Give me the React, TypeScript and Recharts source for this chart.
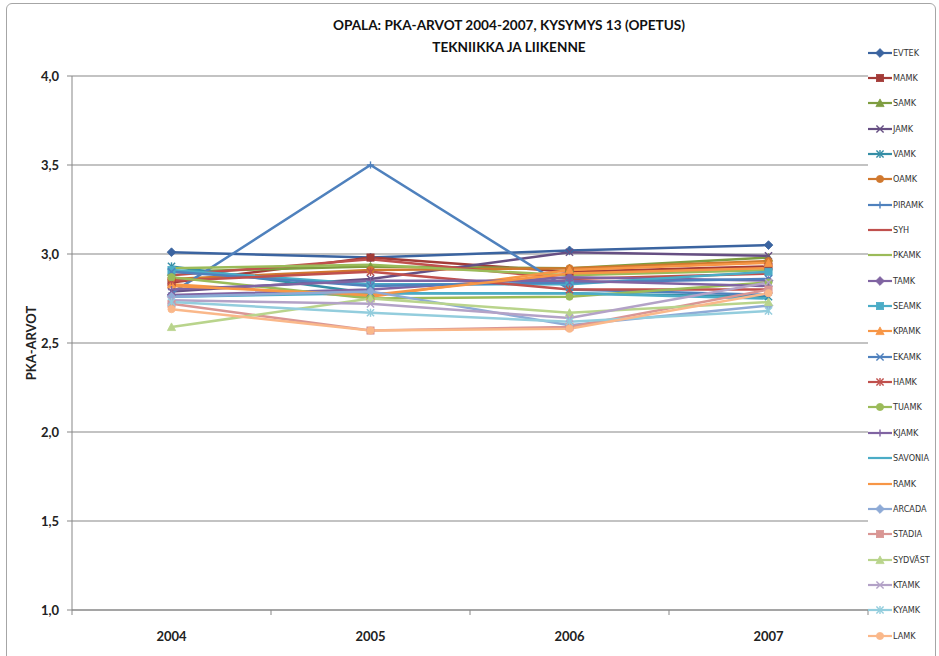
import React from 'react';
import { LineChart, Line, XAxis, YAxis, CartesianGrid } from 'recharts';

// Survey years on the category axis
const years = ['2004', '2005', '2006', '2007'];

// PKA values per school, one value per year
const EVTEK = [3.01, 2.98, 3.02, 3.05];
const MAMK = [2.84, 2.98, 2.9, 2.93];
const SAMK = [2.9, 2.93, 2.92, 2.98];
const JAMK = [2.79, 2.86, 3.01, 2.99];
const VAMK = [2.93, 2.78, 2.78, 2.76];
const OAMK = [2.86, 2.91, 2.92, 2.96];
const PIRAMK = [2.78, 3.5, 2.8, 2.77];
const SYH = [2.88, 2.97, 2.86, 2.89];
const PKAMK = [2.92, 2.94, 2.88, 2.91];
const TAMK = [2.77, 2.8, 2.87, 2.85];
const SEAMK = [2.91, 2.83, 2.83, 2.9];
const KPAMK = [2.83, 2.76, 2.91, 2.95];
const EKAMK = [2.9, 2.82, 2.84, 2.86];
const HAMK = [2.85, 2.9, 2.8, 2.8];
const TUAMK = [2.87, 2.75, 2.76, 2.84];
const KJAMK = [2.8, 2.85, 2.85, 2.82];
const SAVONIA = [2.76, 2.78, 2.78, 2.75];
const RAMK = [2.82, 2.77, 2.89, 2.92];
const ARCADA = [2.76, 2.79, 2.6, 2.71];
const STADIA = [2.72, 2.57, 2.59, 2.8];
const SYDVAST = [2.59, 2.75, 2.67, 2.73];
const KTAMK = [2.74, 2.72, 2.64, 2.84];
const KYAMK = [2.73, 2.67, 2.62, 2.68];
const LAMK = [2.69, 2.57, 2.58, 2.78];

const schoolNames = [
  'EVTEK', 'MAMK', 'SAMK', 'JAMK', 'VAMK', 'OAMK', 'PIRAMK', 'SYH',
  'PKAMK', 'TAMK', 'SEAMK', 'KPAMK', 'EKAMK', 'HAMK', 'TUAMK', 'KJAMK',
  'SAVONIA', 'RAMK', 'ARCADA', 'STADIA', 'SYDVÄST', 'KTAMK', 'KYAMK', 'LAMK',
];
const schoolValues = [
  EVTEK, MAMK, SAMK, JAMK, VAMK, OAMK, PIRAMK, SYH,
  PKAMK, TAMK, SEAMK, KPAMK, EKAMK, HAMK, TUAMK, KJAMK,
  SAVONIA, RAMK, ARCADA, STADIA, SYDVAST, KTAMK, KYAMK, LAMK,
];

const yTicks = [1, 1.5, 2, 2.5, 3, 3.5, 4];

// Series styling: colour and marker type, in series order
const seriesColors = [
  '#3b64a0', '#a33b37', '#7e9d40', '#664f83', '#358ea6', '#d0782e', '#4f81bd', '#c0504d',
  '#9bbb59', '#8064a2', '#4bacc6', '#f79646', '#4f81bd', '#c0504d', '#9bbb59', '#8064a2',
  '#4bacc6', '#f79646', '#8eaad6', '#d99694', '#b9d48c', '#b3a2c7', '#93cddd', '#fab88a',
];
const markerKinds = [
  'diamond', 'square', 'triangle', 'x', 'star', 'circle', 'plus', 'none',
  'none', 'diamond', 'square', 'triangle', 'x', 'star', 'circle', 'plus',
  'none', 'none', 'diamond', 'square', 'triangle', 'x', 'star', 'circle',
];

const chartData = years.map((year, i) => {
  const row: Record<string, string | number> = { year };
  schoolValues.forEach((vals, s) => {
    row['s' + s] = vals[i];
  });
  return row;
});

function markerShape(kind: string, cx: number, cy: number, color: string, key?: any) {
  const r = 3.6;
  switch (kind) {
    case 'diamond':
      return (
        <polygon key={key} points={`${cx},${cy - r - 0.8} ${cx + r + 0.8},${cy} ${cx},${cy + r + 0.8} ${cx - r - 0.8},${cy}`} fill={color} stroke={color} strokeWidth={0.8} />
      );
    case 'square':
      return <rect key={key} x={cx - r} y={cy - r} width={r * 2} height={r * 2} fill={color} stroke={color} strokeWidth={0.8} />;
    case 'triangle':
      return (
        <polygon key={key} points={`${cx},${cy - r - 0.5} ${cx + r + 0.5},${cy + r} ${cx - r - 0.5},${cy + r}`} fill={color} stroke={color} strokeWidth={0.8} />
      );
    case 'x':
      return (
        <g key={key} stroke={color} strokeWidth={1.4}>
          <line x1={cx - r} y1={cy - r} x2={cx + r} y2={cy + r} />
          <line x1={cx - r} y1={cy + r} x2={cx + r} y2={cy - r} />
        </g>
      );
    case 'star':
      return (
        <g key={key} stroke={color} strokeWidth={1.4}>
          <line x1={cx - r} y1={cy - r} x2={cx + r} y2={cy + r} />
          <line x1={cx - r} y1={cy + r} x2={cx + r} y2={cy - r} />
          <line x1={cx} y1={cy - r - 0.5} x2={cx} y2={cy + r + 0.5} />
        </g>
      );
    case 'circle':
      return <circle key={key} cx={cx} cy={cy} r={r} fill={color} stroke={color} strokeWidth={0.8} />;
    case 'plus':
      return (
        <g key={key} stroke={color} strokeWidth={1.4}>
          <line x1={cx - r} y1={cy} x2={cx + r} y2={cy} />
          <line x1={cx} y1={cy - r} x2={cx} y2={cy + r} />
        </g>
      );
    default:
      return <g key={key} />;
  }
}

const fmt = (v: number) => v.toFixed(1).replace('.', ',');

const YearTick = (props: any) => {
  const { x, y, payload, index, width, visibleTicksCount } = props;
  const half = width / visibleTicksCount / 2;
  const last = index === visibleTicksCount - 1;
  return (
    <g>
      <line x1={x - half} y1={y} x2={x - half} y2={y + 5} stroke="#878787" />
      {last && <line x1={x + half} y1={y} x2={x + half} y2={y + 5} stroke="#878787" />}
      <text x={x} y={y + 31} textAnchor="middle" fontFamily="Lato, 'Liberation Sans', sans-serif" fontWeight={700} fontSize={13} fill="#222">
        {payload.value}
      </text>
    </g>
  );
};

export default function App() {
  return (
    <div style={{ position: 'absolute', left: 0, top: 0, width: 939, height: 656, background: '#fff', overflow: 'hidden' }}>
      <div
        style={{
          position: 'absolute', left: 6, top: 3, width: 930, height: 660,
          border: '1px solid #a6a6a6', borderRadius: 6, boxSizing: 'border-box',
        }}
      />
      <div
        style={{
          position: 'absolute', left: 259, top: 14, width: 500, textAlign: 'center',
          fontFamily: "Lato, 'Liberation Sans', sans-serif", fontWeight: 700, fontSize: 13.6, lineHeight: '22px', color: '#111',
        }}
      >
        <div>OPALA: PKA-ARVOT 2004-2007, KYSYMYS 13 (OPETUS)</div>
        <div>TEKNIIKKA JA LIIKENNE</div>
      </div>
      <div
        style={{
          position: 'absolute', left: 31, top: 343, transform: 'translate(-50%, -50%) rotate(-90deg)',
          fontFamily: "Lato, 'Liberation Sans', sans-serif", fontWeight: 700, fontSize: 13, color: '#222', whiteSpace: 'nowrap',
        }}
      >
        PKA-ARVOT
      </div>
      <div style={{ position: 'absolute', left: 0, top: 0 }}>
        <LineChart width={939} height={656} data={chartData} margin={{ top: 76, right: 71, bottom: 16, left: 22 }}>
          <CartesianGrid vertical={false} stroke="#878787" strokeWidth={1} />
          <XAxis
            dataKey="year"
            scale="band"
            height={30}
            axisLine={{ stroke: '#878787' }}
            tickLine={false}
            tickSize={0}
            tickMargin={0}
            tick={<YearTick />}
            interval={0}
          />
          <YAxis
            width={50}
            domain={[1, 4]}
            ticks={yTicks}
            tickFormatter={fmt}
            axisLine={{ stroke: '#878787' }}
            tickLine={{ stroke: '#878787' }}
            tickSize={5}
            tickMargin={8}
            tick={{ fontFamily: "Lato, 'Liberation Sans', sans-serif", fontWeight: 700, fontSize: 13, fill: '#222' }}
          />
          {schoolNames.map((name, s) => (
            <Line
              key={name}
              name={name}
              dataKey={'s' + s}
              stroke={seriesColors[s]}
              strokeWidth={2.5}
              isAnimationActive={false}
              activeDot={false}
              dot={
                markerKinds[s] === 'none'
                  ? false
                  : (p: any) => markerShape(markerKinds[s], p.cx, p.cy, seriesColors[s], p.key)
              }
            />
          ))}
        </LineChart>
      </div>
      <div style={{ position: 'absolute', left: 868, top: 40, width: 71 }}>
        {schoolNames.map((name, s) => (
          <div key={name} style={{ height: 25.35, display: 'flex', alignItems: 'center' }}>
            <svg width={24} height={12} style={{ flex: 'none' }}>
              <line x1={0} y1={6} x2={24} y2={6} stroke={seriesColors[s]} strokeWidth={2.2} />
              {markerShape(markerKinds[s], 12, 6, seriesColors[s])}
            </svg>
            <span
              style={{
                marginLeft: 1, fontFamily: "'Liberation Sans Narrow', 'DejaVu Sans Condensed', 'Liberation Sans', sans-serif",
                fontSize: 9, color: '#333', whiteSpace: 'nowrap',
              }}
            >
              {name}
            </span>
          </div>
        ))}
      </div>
    </div>
  );
}
